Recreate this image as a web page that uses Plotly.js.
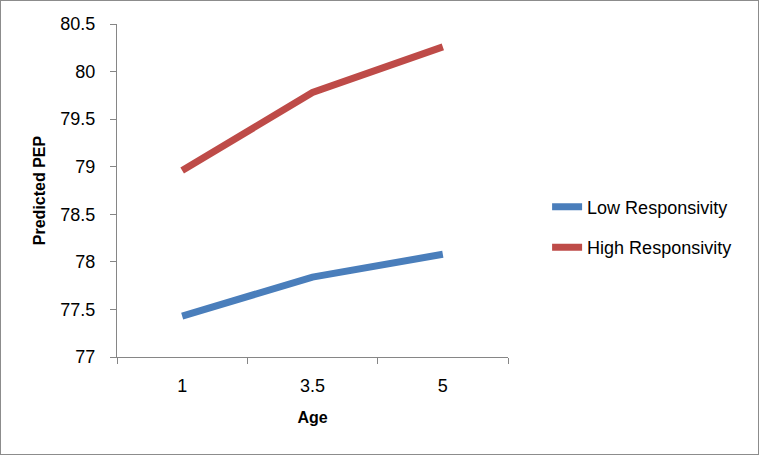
<!DOCTYPE html>
<html>
<head>
<meta charset="utf-8">
<script src="https://cdn.plot.ly/plotly-3.0.1.min.js"></script>
<style>
html,body{margin:0;padding:0;background:#fff;}
#wrap{position:relative;width:759px;height:455px;}
#chart{position:absolute;left:0;top:0;width:759px;height:455px;}
#frame{position:absolute;left:0;top:0;width:759px;height:455px;box-sizing:border-box;border:1px solid #8c8c8c;pointer-events:none;}
</style>
</head>
<body>
<div id="wrap"><div id="chart"></div><div id="frame"></div></div>
<script>
const ages = ["1", "3.5", "5"];
const lowResponsivity = [77.43, 77.84, 78.08];
const highResponsivity = [78.96, 79.78, 80.26];
const yTickVals = [77, 77.5, 78, 78.5, 79, 79.5, 80, 80.5];
const yTickText = ["77", "77.5", "78", "78.5", "79", "79.5", "80", "80.5"];

const fontFam = "Liberation Sans, Arial, sans-serif";
const axisColor = "#868686";

const traces = [
  {x: ages, y: lowResponsivity, type: "scatter", mode: "lines", name: "Low Responsivity",
   legendgroup: "low", line: {color: "#4A7EBB", width: 7}},
  {x: ages, y: highResponsivity, type: "scatter", mode: "lines", name: "High Responsivity",
   legendgroup: "high", line: {color: "#BE4B48", width: 7}}
];

const layout = {
  width: 759, height: 455,
  margin: {l: 117, r: 251, t: 24, b: 98, pad: 0},
  paper_bgcolor: "#fff", plot_bgcolor: "#fff",
  font: {family: fontFam, size: 18, color: "#000"},
  showlegend: true,
  legend: {x: 1.1, y: 0.39, xref: "paper", xanchor: "left", yanchor: "middle",
           font: {family: fontFam, size: 18, color: "#000"},
           tracegroupgap: 14, itemwidth: 30, bgcolor: "rgba(0,0,0,0)"},
  xaxis: {type: "category", range: [-0.5, 2.5], showgrid: false, zeroline: false,
          showline: true, linecolor: axisColor, linewidth: 1,
          ticks: "outside", tickson: "boundaries", ticklen: 6, tickcolor: axisColor,
          ticklabelstandoff: 12, tickfont: {family: fontFam, size: 18},
          title: {text: "<b>Age</b>", font: {family: fontFam, size: 16}, standoff: 17}},
  yaxis: {range: [77, 80.5], showgrid: false, zeroline: false,
          showline: true, linecolor: axisColor, linewidth: 1,
          ticks: "outside", ticklen: 6, tickcolor: axisColor,
          tickvals: yTickVals, ticktext: yTickText, ticklabelstandoff: 11,
          tickfont: {family: fontFam, size: 18},
          title: {text: "<b>Predicted PEP</b>", font: {family: fontFam, size: 16}, standoff: 10}}
};

Plotly.newPlot("chart", traces, layout, {displayModeBar: false, staticPlot: true});
</script>
</body>
</html>
